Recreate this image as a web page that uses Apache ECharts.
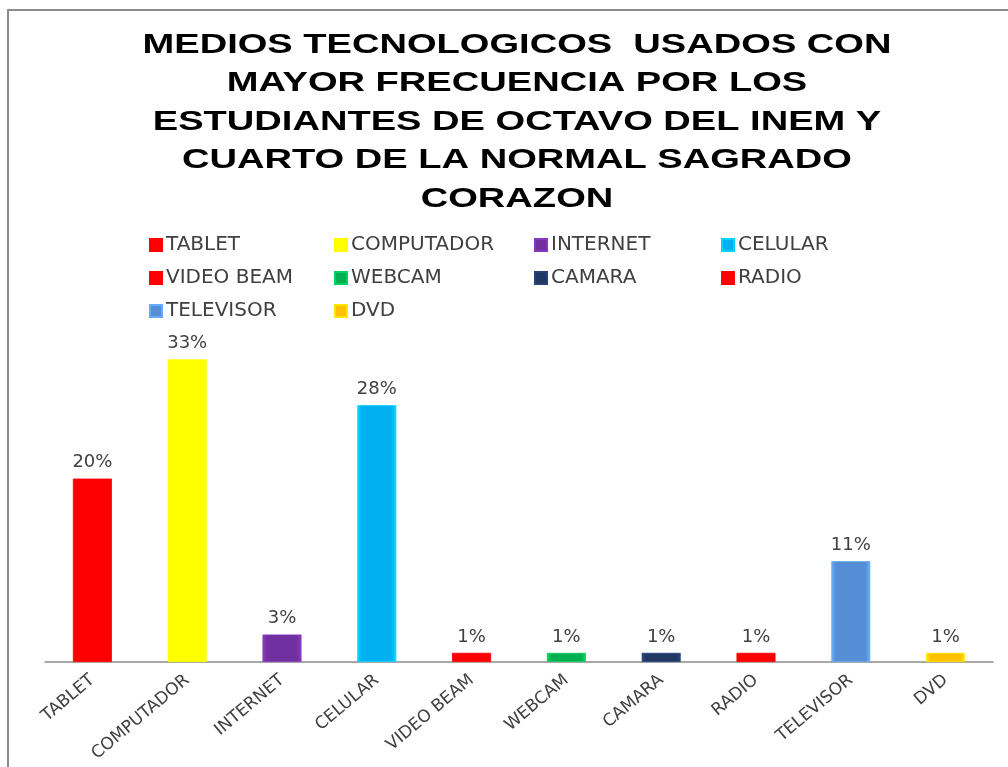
<!DOCTYPE html>
<html>
<head>
<meta charset="utf-8">
<script src="https://cdn.jsdelivr.net/npm/echarts@6/dist/echarts.min.js"></script>
<style>
  html, body { margin: 0; padding: 0; background: #fff; }
  #chart { width: 1008px; height: 767px; }
</style>
</head>
<body>
<div id="chart"></div>
<script>
const categories = ['TABLET', 'COMPUTADOR', 'INTERNET', 'CELULAR', 'VIDEO BEAM', 'WEBCAM', 'CAMARA', 'RADIO', 'TELEVISOR', 'DVD'];
const percentages = [20, 33, 3, 28, 1, 1, 1, 1, 11, 1];
const barColors = ['#ff0000', '#ffff00', '#7030a0', '#00b0f0', '#ff0000', '#00b050', '#1f3864', '#ff0000', '#558ed5', '#ffc000'];
const legendColumns = [
  ['TABLET', 'VIDEO BEAM', 'TELEVISOR'],
  ['COMPUTADOR', 'WEBCAM', 'DVD'],
  ['INTERNET', 'CAMARA'],
  ['CELULAR', 'RADIO']
];
const titleText = 'MEDIOS TECNOLOGICOS  USADOS CON\nMAYOR FRECUENCIA POR LOS\nESTUDIANTES DE OCTAVO DEL INEM Y\nCUARTO DE LA NORMAL SAGRADO\nCORAZON';

const chart = echarts.init(document.getElementById('chart'));

// degradado para imitar el bisel de Excel
function bevel(c) {
  return new echarts.graphic.LinearGradient(0, 0, 1, 0, [
    { offset: 0, color: echarts.color.lift(c, -0.25) },
    { offset: 0.12, color: c },
    { offset: 0.88, color: c },
    { offset: 1, color: echarts.color.lift(c, -0.25) }
  ]);
}

const legendX = [144, 329, 529, 716];

chart.setOption({
  animation: false,
  color: barColors,
  graphic: [{
    type: 'rect',
    shape: { x: 8, y: 10, width: 1100, height: 900 },
    style: { fill: 'none', stroke: '#8c8c8c', lineWidth: 2 },
    silent: true
  }, {
    // titulo: la fuente original es mas ancha, se estira en x
    type: 'text',
    x: 517,
    y: 26,
    scaleX: 1.36,
    silent: true,
    style: {
      text: titleText,
      fontFamily: 'Liberation Sans',
      fontWeight: 'bold',
      fontSize: 28,
      lineHeight: 38.5,
      fill: '#000',
      align: 'center',
      verticalAlign: 'top'
    }
  }],
  legend: legendColumns.map((col, i) => ({
    data: col,
    orient: 'vertical',
    left: legendX[i],
    top: 230,
    itemWidth: 12,
    itemHeight: 12,
    itemGap: 13,
    icon: 'rect',
    textStyle: { fontFamily: 'DejaVu Sans', fontSize: 20, color: '#404040', padding: [0, 0, 0, -1] }
  })),
  grid: { left: 45, right: 15, top: 341, bottom: 105, outerBoundsMode: 'none', containLabel: false },
  xAxis: {
    type: 'category',
    data: categories,
    axisLine: { lineStyle: { color: '#8c8c8c', width: 1.5 } },
    axisTick: { show: false },
    axisLabel: {
      interval: 0,
      rotate: 40,
      margin: 16,
      fontFamily: 'DejaVu Sans',
      fontSize: 17,
      color: '#404040'
    }
  },
  yAxis: {
    type: 'value',
    min: 0,
    max: 35,
    show: false,
    splitLine: { show: false }
  },
  series: categories.map((name, i) => ({
    name: name,
    type: 'bar',
    stack: 'total',
    barWidth: 39,
    color: barColors[i],
    itemStyle: { color: bevel(barColors[i]), borderColor: echarts.color.lift(barColors[i], -0.2), borderWidth: 0.8 },
    label: {
      show: true,
      position: 'top',
      distance: 7,
      formatter: p => p.value + '%',
      fontFamily: 'DejaVu Sans',
      fontSize: 18,
      color: '#404040'
    },
    data: categories.map((c, j) => (j === i ? percentages[i] : null))
  }))
});
</script>
</body>
</html>
